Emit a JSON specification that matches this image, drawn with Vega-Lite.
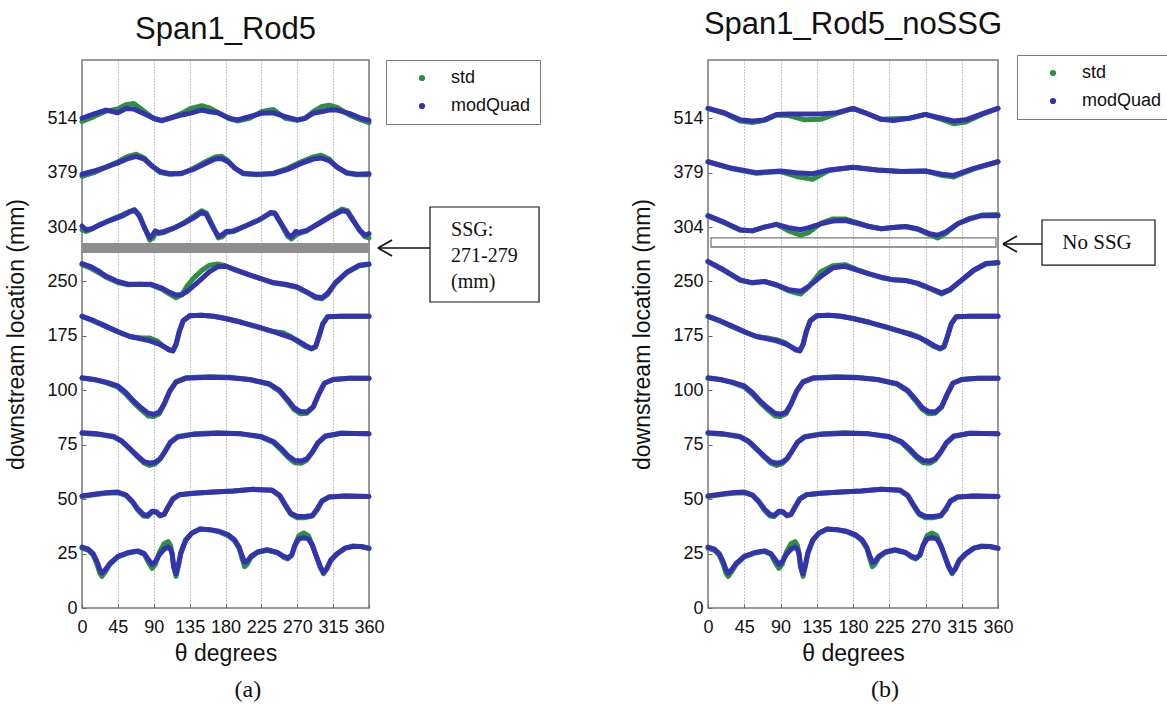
{
"$schema": "https://vega.github.io/schema/vega-lite/v6.json",
"background": "white",
"padding": {"left": 5, "top": 7, "right": 0, "bottom": 0},
"bounds": "flush",
"spacing": 339,
"config": {
  "font": "Liberation Sans",
  "view": {"stroke": "#7a7a7a", "strokeWidth": 1.5},
  "axis": {"labelFont": "Liberation Sans", "labelFontSize": 18, "labelColor": "#111", "labelOverlap": false, "labelFlush": false, "titleFont": "Liberation Sans", "titleFontSize": 23, "titleFontWeight": "normal", "titleColor": "#111", "domain": false, "tickColor": "#666", "tickSize": -4},
  "legend": {"title": null, "orient": "none", "strokeColor": "#7a7a7a", "fillColor": "white", "padding": 9, "symbolType": "circle", "symbolSize": 10, "symbolStrokeWidth": 3, "symbolOffset": 18, "labelOffset": 20, "labelFont": "Liberation Sans", "labelFontSize": 18, "labelColor": "#111", "rowPadding": 10},
  "title": {"font": "Liberation Sans", "fontSize": 31, "fontWeight": "normal", "color": "#111", "offset": 14}
},
"resolve": {"scale": {"color": "independent"}, "legend": {"color": "independent"}},
"datasets": {
"a": [
{"r":1,"t":0,"std":1.10,"modQuad":1.12},{"r":1,"t":8,"std":1.06,"modQuad":1.08},{"r":1,"t":14,"std":0.97,"modQuad":1.0},{"r":1,"t":19,"std":0.8,"modQuad":0.85},{"r":1,"t":22,"std":0.65,"modQuad":0.72},{"r":1,"t":25,"std":0.58,"modQuad":0.64},{"r":1,"t":29,"std":0.66,"modQuad":0.7},{"r":1,"t":35,"std":0.8,"modQuad":0.82},{"r":1,"t":45,"std":0.94,"modQuad":0.95},{"r":1,"t":58,"std":1.01,"modQuad":1.02},{"r":1,"t":70,"std":1.04,"modQuad":1.05},{"r":1,"t":78,"std":0.99,"modQuad":1.0},{"r":1,"t":84,"std":0.82,"modQuad":0.88},{"r":1,"t":88,"std":0.73,"modQuad":0.8},{"r":1,"t":92,"std":0.8,"modQuad":0.85},{"r":1,"t":97,"std":1.02,"modQuad":0.98},{"r":1,"t":103,"std":1.18,"modQuad":1.08},{"r":1,"t":108,"std":1.22,"modQuad":1.12},{"r":1,"t":111,"std":1.15,"modQuad":1.08},{"r":1,"t":113,"std":1.0,"modQuad":1.0},{"r":1,"t":115,"std":0.76,"modQuad":0.76},{"r":1,"t":118,"std":0.58,"modQuad":0.63},{"r":1,"t":121,"std":0.78,"modQuad":0.8},{"r":1,"t":124,"std":1.0,"modQuad":1.02},{"r":1,"t":130,"std":1.24,"modQuad":1.25},{"r":1,"t":138,"std":1.38,"modQuad":1.38},{"r":1,"t":148,"std":1.45,"modQuad":1.45},{"r":1,"t":160,"std":1.44,"modQuad":1.44},{"r":1,"t":172,"std":1.40,"modQuad":1.41},{"r":1,"t":183,"std":1.33,"modQuad":1.35},{"r":1,"t":191,"std":1.24,"modQuad":1.26},{"r":1,"t":197,"std":1.1,"modQuad":1.12},{"r":1,"t":201,"std":0.9,"modQuad":0.95},{"r":1,"t":204,"std":0.76,"modQuad":0.84},{"r":1,"t":207,"std":0.8,"modQuad":0.85},{"r":1,"t":212,"std":0.93,"modQuad":0.95},{"r":1,"t":220,"std":1.02,"modQuad":1.03},{"r":1,"t":232,"std":1.06,"modQuad":1.07},{"r":1,"t":245,"std":1.02,"modQuad":1.02},{"r":1,"t":253,"std":0.93,"modQuad":0.95},{"r":1,"t":258,"std":0.9,"modQuad":0.92},{"r":1,"t":263,"std":0.97,"modQuad":0.97},{"r":1,"t":267,"std":1.15,"modQuad":1.15},{"r":1,"t":272,"std":1.33,"modQuad":1.27},{"r":1,"t":278,"std":1.38,"modQuad":1.29},{"r":1,"t":284,"std":1.33,"modQuad":1.27},{"r":1,"t":289,"std":1.15,"modQuad":1.15},{"r":1,"t":294,"std":0.95,"modQuad":0.95},{"r":1,"t":299,"std":0.74,"modQuad":0.76},{"r":1,"t":303,"std":0.63,"modQuad":0.65},{"r":1,"t":307,"std":0.72,"modQuad":0.72},{"r":1,"t":312,"std":0.87,"modQuad":0.88},{"r":1,"t":320,"std":0.99,"modQuad":1.0},{"r":1,"t":330,"std":1.1,"modQuad":1.1},{"r":1,"t":340,"std":1.14,"modQuad":1.13},{"r":1,"t":350,"std":1.13,"modQuad":1.13},{"r":1,"t":360,"std":1.09,"modQuad":1.1},
{"r":2,"t":0,"std":2.05,"modQuad":2.06},{"r":2,"t":15,"std":2.08,"modQuad":2.09},{"r":2,"t":30,"std":2.11,"modQuad":2.12},{"r":2,"t":45,"std":2.12,"modQuad":2.13},{"r":2,"t":55,"std":2.07,"modQuad":2.08},{"r":2,"t":63,"std":1.95,"modQuad":1.96},{"r":2,"t":70,"std":1.8,"modQuad":1.82},{"r":2,"t":77,"std":1.69,"modQuad":1.72},{"r":2,"t":82,"std":1.68,"modQuad":1.7},{"r":2,"t":88,"std":1.76,"modQuad":1.78},{"r":2,"t":93,"std":1.76,"modQuad":1.77},{"r":2,"t":98,"std":1.69,"modQuad":1.7},{"r":2,"t":103,"std":1.72,"modQuad":1.72},{"r":2,"t":108,"std":1.86,"modQuad":1.85},{"r":2,"t":114,"std":2.01,"modQuad":2.0},{"r":2,"t":122,"std":2.08,"modQuad":2.08},{"r":2,"t":140,"std":2.11,"modQuad":2.11},{"r":2,"t":165,"std":2.13,"modQuad":2.13},{"r":2,"t":190,"std":2.15,"modQuad":2.15},{"r":2,"t":215,"std":2.18,"modQuad":2.18},{"r":2,"t":238,"std":2.16,"modQuad":2.17},{"r":2,"t":248,"std":2.06,"modQuad":2.07},{"r":2,"t":255,"std":1.88,"modQuad":1.9},{"r":2,"t":262,"std":1.72,"modQuad":1.74},{"r":2,"t":270,"std":1.66,"modQuad":1.68},{"r":2,"t":280,"std":1.66,"modQuad":1.68},{"r":2,"t":289,"std":1.69,"modQuad":1.7},{"r":2,"t":295,"std":1.8,"modQuad":1.82},{"r":2,"t":301,"std":1.96,"modQuad":1.97},{"r":2,"t":310,"std":2.04,"modQuad":2.04},{"r":2,"t":330,"std":2.06,"modQuad":2.06},{"r":2,"t":360,"std":2.05,"modQuad":2.05},
{"r":3,"t":0,"std":3.21,"modQuad":3.22},{"r":3,"t":20,"std":3.19,"modQuad":3.2},{"r":3,"t":40,"std":3.14,"modQuad":3.15},{"r":3,"t":50,"std":3.06,"modQuad":3.07},{"r":3,"t":60,"std":2.92,"modQuad":2.93},{"r":3,"t":70,"std":2.77,"modQuad":2.79},{"r":3,"t":78,"std":2.66,"modQuad":2.69},{"r":3,"t":85,"std":2.62,"modQuad":2.66},{"r":3,"t":92,"std":2.65,"modQuad":2.68},{"r":3,"t":98,"std":2.74,"modQuad":2.74},{"r":3,"t":104,"std":2.88,"modQuad":2.87},{"r":3,"t":111,"std":3.05,"modQuad":3.04},{"r":3,"t":120,"std":3.15,"modQuad":3.14},{"r":3,"t":140,"std":3.2,"modQuad":3.19},{"r":3,"t":170,"std":3.22,"modQuad":3.21},{"r":3,"t":200,"std":3.2,"modQuad":3.2},{"r":3,"t":225,"std":3.14,"modQuad":3.15},{"r":3,"t":240,"std":3.04,"modQuad":3.06},{"r":3,"t":250,"std":2.9,"modQuad":2.93},{"r":3,"t":259,"std":2.76,"modQuad":2.79},{"r":3,"t":267,"std":2.67,"modQuad":2.71},{"r":3,"t":275,"std":2.66,"modQuad":2.7},{"r":3,"t":282,"std":2.72,"modQuad":2.74},{"r":3,"t":289,"std":2.86,"modQuad":2.87},{"r":3,"t":296,"std":3.03,"modQuad":3.04},{"r":3,"t":305,"std":3.15,"modQuad":3.16},{"r":3,"t":325,"std":3.21,"modQuad":3.21},{"r":3,"t":360,"std":3.2,"modQuad":3.2},
{"r":4,"t":0,"std":4.22,"modQuad":4.23},{"r":4,"t":15,"std":4.2,"modQuad":4.2},{"r":4,"t":30,"std":4.14,"modQuad":4.15},{"r":4,"t":45,"std":4.06,"modQuad":4.08},{"r":4,"t":55,"std":3.93,"modQuad":3.96},{"r":4,"t":65,"std":3.77,"modQuad":3.8},{"r":4,"t":75,"std":3.63,"modQuad":3.67},{"r":4,"t":83,"std":3.53,"modQuad":3.58},{"r":4,"t":90,"std":3.52,"modQuad":3.56},{"r":4,"t":97,"std":3.57,"modQuad":3.6},{"r":4,"t":103,"std":3.74,"modQuad":3.75},{"r":4,"t":110,"std":3.99,"modQuad":3.98},{"r":4,"t":118,"std":4.16,"modQuad":4.15},{"r":4,"t":130,"std":4.23,"modQuad":4.22},{"r":4,"t":160,"std":4.25,"modQuad":4.24},{"r":4,"t":185,"std":4.24,"modQuad":4.23},{"r":4,"t":210,"std":4.2,"modQuad":4.2},{"r":4,"t":235,"std":4.11,"modQuad":4.12},{"r":4,"t":248,"std":3.98,"modQuad":4.0},{"r":4,"t":258,"std":3.8,"modQuad":3.83},{"r":4,"t":266,"std":3.65,"modQuad":3.68},{"r":4,"t":274,"std":3.57,"modQuad":3.61},{"r":4,"t":282,"std":3.58,"modQuad":3.6},{"r":4,"t":290,"std":3.69,"modQuad":3.7},{"r":4,"t":297,"std":3.93,"modQuad":3.93},{"r":4,"t":304,"std":4.13,"modQuad":4.13},{"r":4,"t":315,"std":4.2,"modQuad":4.2},{"r":4,"t":335,"std":4.22,"modQuad":4.22},{"r":4,"t":360,"std":4.22,"modQuad":4.22},
{"r":5,"t":0,"std":5.36,"modQuad":5.36},{"r":5,"t":15,"std":5.27,"modQuad":5.28},{"r":5,"t":30,"std":5.17,"modQuad":5.18},{"r":5,"t":45,"std":5.07,"modQuad":5.08},{"r":5,"t":60,"std":4.99,"modQuad":4.99},{"r":5,"t":75,"std":4.96,"modQuad":4.94},{"r":5,"t":85,"std":4.96,"modQuad":4.91},{"r":5,"t":95,"std":4.9,"modQuad":4.86},{"r":5,"t":103,"std":4.8,"modQuad":4.8},{"r":5,"t":109,"std":4.74,"modQuad":4.75},{"r":5,"t":114,"std":4.72,"modQuad":4.73},{"r":5,"t":118,"std":4.84,"modQuad":4.85},{"r":5,"t":122,"std":5.08,"modQuad":5.08},{"r":5,"t":127,"std":5.28,"modQuad":5.28},{"r":5,"t":135,"std":5.37,"modQuad":5.37},{"r":5,"t":150,"std":5.38,"modQuad":5.38},{"r":5,"t":165,"std":5.36,"modQuad":5.36},{"r":5,"t":180,"std":5.32,"modQuad":5.32},{"r":5,"t":200,"std":5.25,"modQuad":5.25},{"r":5,"t":220,"std":5.16,"modQuad":5.17},{"r":5,"t":240,"std":5.08,"modQuad":5.08},{"r":5,"t":252,"std":5.06,"modQuad":5.02},{"r":5,"t":262,"std":4.99,"modQuad":4.97},{"r":5,"t":272,"std":4.88,"modQuad":4.9},{"r":5,"t":281,"std":4.8,"modQuad":4.82},{"r":5,"t":288,"std":4.76,"modQuad":4.77},{"r":5,"t":293,"std":4.8,"modQuad":4.8},{"r":5,"t":297,"std":4.98,"modQuad":4.98},{"r":5,"t":302,"std":5.22,"modQuad":5.22},{"r":5,"t":308,"std":5.35,"modQuad":5.35},{"r":5,"t":325,"std":5.36,"modQuad":5.36},{"r":5,"t":360,"std":5.36,"modQuad":5.36},
{"r":6,"t":0,"std":6.31,"modQuad":6.33},{"r":6,"t":10,"std":6.25,"modQuad":6.28},{"r":6,"t":20,"std":6.17,"modQuad":6.2},{"r":6,"t":30,"std":6.08,"modQuad":6.1},{"r":6,"t":45,"std":5.98,"modQuad":6.0},{"r":6,"t":58,"std":5.94,"modQuad":5.95},{"r":6,"t":72,"std":5.95,"modQuad":5.95},{"r":6,"t":86,"std":5.94,"modQuad":5.95},{"r":6,"t":100,"std":5.86,"modQuad":5.88},{"r":6,"t":110,"std":5.77,"modQuad":5.8},{"r":6,"t":118,"std":5.7,"modQuad":5.75},{"r":6,"t":125,"std":5.75,"modQuad":5.76},{"r":6,"t":132,"std":5.92,"modQuad":5.82},{"r":6,"t":140,"std":6.06,"modQuad":5.92},{"r":6,"t":150,"std":6.2,"modQuad":6.05},{"r":6,"t":160,"std":6.3,"modQuad":6.18},{"r":6,"t":170,"std":6.32,"modQuad":6.27},{"r":6,"t":180,"std":6.29,"modQuad":6.28},{"r":6,"t":195,"std":6.2,"modQuad":6.2},{"r":6,"t":210,"std":6.12,"modQuad":6.12},{"r":6,"t":225,"std":6.05,"modQuad":6.05},{"r":6,"t":240,"std":5.97,"modQuad":5.98},{"r":6,"t":255,"std":5.94,"modQuad":5.95},{"r":6,"t":270,"std":5.89,"modQuad":5.9},{"r":6,"t":283,"std":5.79,"modQuad":5.8},{"r":6,"t":293,"std":5.7,"modQuad":5.72},{"r":6,"t":301,"std":5.68,"modQuad":5.7},{"r":6,"t":308,"std":5.76,"modQuad":5.78},{"r":6,"t":318,"std":5.97,"modQuad":5.98},{"r":6,"t":333,"std":6.17,"modQuad":6.18},{"r":6,"t":348,"std":6.29,"modQuad":6.3},{"r":6,"t":360,"std":6.31,"modQuad":6.32},
{"r":7,"t":0,"std":6.95,"modQuad":7.02},{"r":7,"t":5,"std":6.92,"modQuad":6.95},{"r":7,"t":12,"std":6.96,"modQuad":6.97},{"r":7,"t":22,"std":7.04,"modQuad":7.04},{"r":7,"t":35,"std":7.13,"modQuad":7.12},{"r":7,"t":50,"std":7.22,"modQuad":7.2},{"r":7,"t":60,"std":7.29,"modQuad":7.28},{"r":7,"t":66,"std":7.32,"modQuad":7.31},{"r":7,"t":72,"std":7.22,"modQuad":7.2},{"r":7,"t":79,"std":6.97,"modQuad":6.97},{"r":7,"t":85,"std":6.76,"modQuad":6.8},{"r":7,"t":89,"std":6.8,"modQuad":6.86},{"r":7,"t":92,"std":6.88,"modQuad":6.93},{"r":7,"t":96,"std":6.88,"modQuad":6.9},{"r":7,"t":103,"std":6.9,"modQuad":6.92},{"r":7,"t":115,"std":6.98,"modQuad":6.98},{"r":7,"t":128,"std":7.08,"modQuad":7.07},{"r":7,"t":140,"std":7.2,"modQuad":7.17},{"r":7,"t":150,"std":7.3,"modQuad":7.27},{"r":7,"t":156,"std":7.26,"modQuad":7.23},{"r":7,"t":163,"std":7.05,"modQuad":7.03},{"r":7,"t":171,"std":6.8,"modQuad":6.83},{"r":7,"t":176,"std":6.82,"modQuad":6.86},{"r":7,"t":181,"std":6.9,"modQuad":6.92},{"r":7,"t":190,"std":6.92,"modQuad":6.93},{"r":7,"t":205,"std":7.02,"modQuad":7.02},{"r":7,"t":222,"std":7.13,"modQuad":7.13},{"r":7,"t":237,"std":7.26,"modQuad":7.27},{"r":7,"t":242,"std":7.24,"modQuad":7.26},{"r":7,"t":250,"std":7.05,"modQuad":7.06},{"r":7,"t":258,"std":6.83,"modQuad":6.87},{"r":7,"t":263,"std":6.78,"modQuad":6.82},{"r":7,"t":268,"std":6.85,"modQuad":6.92},{"r":7,"t":272,"std":6.88,"modQuad":6.9},{"r":7,"t":282,"std":6.93,"modQuad":6.94},{"r":7,"t":298,"std":7.08,"modQuad":7.07},{"r":7,"t":313,"std":7.22,"modQuad":7.2},{"r":7,"t":326,"std":7.33,"modQuad":7.3},{"r":7,"t":333,"std":7.3,"modQuad":7.28},{"r":7,"t":340,"std":7.14,"modQuad":7.12},{"r":7,"t":348,"std":6.94,"modQuad":6.95},{"r":7,"t":355,"std":6.82,"modQuad":6.85},{"r":7,"t":360,"std":6.8,"modQuad":6.88},
{"r":8,"t":0,"std":7.93,"modQuad":7.97},{"r":8,"t":15,"std":8.0,"modQuad":8.03},{"r":8,"t":30,"std":8.1,"modQuad":8.1},{"r":8,"t":45,"std":8.2,"modQuad":8.18},{"r":8,"t":58,"std":8.3,"modQuad":8.26},{"r":8,"t":68,"std":8.34,"modQuad":8.3},{"r":8,"t":78,"std":8.27,"modQuad":8.25},{"r":8,"t":88,"std":8.12,"modQuad":8.12},{"r":8,"t":98,"std":8.0,"modQuad":8.02},{"r":8,"t":110,"std":7.97,"modQuad":7.98},{"r":8,"t":125,"std":7.98,"modQuad":7.99},{"r":8,"t":140,"std":8.08,"modQuad":8.06},{"r":8,"t":155,"std":8.2,"modQuad":8.17},{"r":8,"t":167,"std":8.29,"modQuad":8.25},{"r":8,"t":175,"std":8.3,"modQuad":8.26},{"r":8,"t":183,"std":8.22,"modQuad":8.2},{"r":8,"t":192,"std":8.08,"modQuad":8.08},{"r":8,"t":202,"std":7.98,"modQuad":7.99},{"r":8,"t":220,"std":7.96,"modQuad":7.97},{"r":8,"t":240,"std":7.99,"modQuad":7.98},{"r":8,"t":258,"std":8.08,"modQuad":8.06},{"r":8,"t":275,"std":8.2,"modQuad":8.17},{"r":8,"t":290,"std":8.29,"modQuad":8.25},{"r":8,"t":300,"std":8.32,"modQuad":8.27},{"r":8,"t":310,"std":8.25,"modQuad":8.22},{"r":8,"t":320,"std":8.1,"modQuad":8.1},{"r":8,"t":332,"std":7.99,"modQuad":8.0},{"r":8,"t":345,"std":7.96,"modQuad":7.97},{"r":8,"t":360,"std":7.96,"modQuad":7.98},
{"r":9,"t":0,"std":8.94,"modQuad":9.0},{"r":9,"t":15,"std":9.03,"modQuad":9.08},{"r":9,"t":30,"std":9.13,"modQuad":9.15},{"r":9,"t":45,"std":9.17,"modQuad":9.1},{"r":9,"t":55,"std":9.25,"modQuad":9.18},{"r":9,"t":65,"std":9.27,"modQuad":9.17},{"r":9,"t":75,"std":9.16,"modQuad":9.1},{"r":9,"t":90,"std":8.99,"modQuad":9.0},{"r":9,"t":100,"std":8.95,"modQuad":8.96},{"r":9,"t":110,"std":9.0,"modQuad":9.0},{"r":9,"t":125,"std":9.09,"modQuad":9.06},{"r":9,"t":135,"std":9.17,"modQuad":9.09},{"r":9,"t":150,"std":9.23,"modQuad":9.15},{"r":9,"t":160,"std":9.19,"modQuad":9.12},{"r":9,"t":170,"std":9.11,"modQuad":9.1},{"r":9,"t":185,"std":8.99,"modQuad":9.0},{"r":9,"t":195,"std":8.95,"modQuad":8.97},{"r":9,"t":210,"std":9.0,"modQuad":9.03},{"r":9,"t":225,"std":9.12,"modQuad":9.09},{"r":9,"t":240,"std":9.16,"modQuad":9.1},{"r":9,"t":255,"std":9.0,"modQuad":9.03},{"r":9,"t":270,"std":8.96,"modQuad":8.97},{"r":9,"t":280,"std":9.0,"modQuad":9.0},{"r":9,"t":290,"std":9.12,"modQuad":9.09},{"r":9,"t":300,"std":9.21,"modQuad":9.12},{"r":9,"t":310,"std":9.24,"modQuad":9.15},{"r":9,"t":320,"std":9.2,"modQuad":9.15},{"r":9,"t":335,"std":9.06,"modQuad":9.09},{"r":9,"t":350,"std":8.97,"modQuad":9.0},{"r":9,"t":360,"std":8.92,"modQuad":8.96}
],
"b": [
{"r":1,"t":0,"std":1.10,"modQuad":1.12},{"r":1,"t":8,"std":1.06,"modQuad":1.08},{"r":1,"t":14,"std":0.97,"modQuad":1.0},{"r":1,"t":19,"std":0.8,"modQuad":0.85},{"r":1,"t":22,"std":0.65,"modQuad":0.72},{"r":1,"t":25,"std":0.58,"modQuad":0.64},{"r":1,"t":29,"std":0.66,"modQuad":0.7},{"r":1,"t":35,"std":0.8,"modQuad":0.82},{"r":1,"t":45,"std":0.94,"modQuad":0.95},{"r":1,"t":58,"std":1.01,"modQuad":1.02},{"r":1,"t":70,"std":1.04,"modQuad":1.05},{"r":1,"t":78,"std":0.99,"modQuad":1.0},{"r":1,"t":84,"std":0.82,"modQuad":0.88},{"r":1,"t":88,"std":0.73,"modQuad":0.8},{"r":1,"t":92,"std":0.8,"modQuad":0.85},{"r":1,"t":97,"std":1.02,"modQuad":0.98},{"r":1,"t":103,"std":1.18,"modQuad":1.08},{"r":1,"t":108,"std":1.22,"modQuad":1.12},{"r":1,"t":111,"std":1.15,"modQuad":1.08},{"r":1,"t":113,"std":1.0,"modQuad":1.0},{"r":1,"t":115,"std":0.76,"modQuad":0.76},{"r":1,"t":118,"std":0.58,"modQuad":0.63},{"r":1,"t":121,"std":0.78,"modQuad":0.8},{"r":1,"t":124,"std":1.0,"modQuad":1.02},{"r":1,"t":130,"std":1.24,"modQuad":1.25},{"r":1,"t":138,"std":1.38,"modQuad":1.38},{"r":1,"t":148,"std":1.45,"modQuad":1.45},{"r":1,"t":160,"std":1.44,"modQuad":1.44},{"r":1,"t":172,"std":1.40,"modQuad":1.41},{"r":1,"t":183,"std":1.33,"modQuad":1.35},{"r":1,"t":191,"std":1.24,"modQuad":1.26},{"r":1,"t":197,"std":1.1,"modQuad":1.12},{"r":1,"t":201,"std":0.9,"modQuad":0.95},{"r":1,"t":204,"std":0.76,"modQuad":0.84},{"r":1,"t":207,"std":0.8,"modQuad":0.85},{"r":1,"t":212,"std":0.93,"modQuad":0.95},{"r":1,"t":220,"std":1.02,"modQuad":1.03},{"r":1,"t":232,"std":1.06,"modQuad":1.07},{"r":1,"t":245,"std":1.02,"modQuad":1.02},{"r":1,"t":253,"std":0.93,"modQuad":0.95},{"r":1,"t":258,"std":0.9,"modQuad":0.92},{"r":1,"t":263,"std":0.97,"modQuad":0.97},{"r":1,"t":267,"std":1.15,"modQuad":1.15},{"r":1,"t":272,"std":1.33,"modQuad":1.27},{"r":1,"t":278,"std":1.38,"modQuad":1.29},{"r":1,"t":284,"std":1.33,"modQuad":1.27},{"r":1,"t":289,"std":1.15,"modQuad":1.15},{"r":1,"t":294,"std":0.95,"modQuad":0.95},{"r":1,"t":299,"std":0.74,"modQuad":0.76},{"r":1,"t":303,"std":0.63,"modQuad":0.65},{"r":1,"t":307,"std":0.72,"modQuad":0.72},{"r":1,"t":312,"std":0.87,"modQuad":0.88},{"r":1,"t":320,"std":0.99,"modQuad":1.0},{"r":1,"t":330,"std":1.1,"modQuad":1.1},{"r":1,"t":340,"std":1.14,"modQuad":1.13},{"r":1,"t":350,"std":1.13,"modQuad":1.13},{"r":1,"t":360,"std":1.09,"modQuad":1.1},
{"r":2,"t":0,"std":2.05,"modQuad":2.06},{"r":2,"t":15,"std":2.08,"modQuad":2.09},{"r":2,"t":30,"std":2.11,"modQuad":2.12},{"r":2,"t":45,"std":2.12,"modQuad":2.13},{"r":2,"t":55,"std":2.07,"modQuad":2.08},{"r":2,"t":63,"std":1.95,"modQuad":1.96},{"r":2,"t":70,"std":1.8,"modQuad":1.82},{"r":2,"t":77,"std":1.69,"modQuad":1.72},{"r":2,"t":82,"std":1.68,"modQuad":1.7},{"r":2,"t":88,"std":1.76,"modQuad":1.78},{"r":2,"t":93,"std":1.76,"modQuad":1.77},{"r":2,"t":98,"std":1.69,"modQuad":1.7},{"r":2,"t":103,"std":1.72,"modQuad":1.72},{"r":2,"t":108,"std":1.86,"modQuad":1.85},{"r":2,"t":114,"std":2.01,"modQuad":2.0},{"r":2,"t":122,"std":2.08,"modQuad":2.08},{"r":2,"t":140,"std":2.11,"modQuad":2.11},{"r":2,"t":165,"std":2.13,"modQuad":2.13},{"r":2,"t":190,"std":2.15,"modQuad":2.15},{"r":2,"t":215,"std":2.18,"modQuad":2.18},{"r":2,"t":238,"std":2.16,"modQuad":2.17},{"r":2,"t":248,"std":2.06,"modQuad":2.07},{"r":2,"t":255,"std":1.88,"modQuad":1.9},{"r":2,"t":262,"std":1.72,"modQuad":1.74},{"r":2,"t":270,"std":1.66,"modQuad":1.68},{"r":2,"t":280,"std":1.66,"modQuad":1.68},{"r":2,"t":289,"std":1.69,"modQuad":1.7},{"r":2,"t":295,"std":1.8,"modQuad":1.82},{"r":2,"t":301,"std":1.96,"modQuad":1.97},{"r":2,"t":310,"std":2.04,"modQuad":2.04},{"r":2,"t":330,"std":2.06,"modQuad":2.06},{"r":2,"t":360,"std":2.05,"modQuad":2.05},
{"r":3,"t":0,"std":3.21,"modQuad":3.22},{"r":3,"t":20,"std":3.19,"modQuad":3.2},{"r":3,"t":40,"std":3.14,"modQuad":3.15},{"r":3,"t":50,"std":3.06,"modQuad":3.07},{"r":3,"t":60,"std":2.92,"modQuad":2.93},{"r":3,"t":70,"std":2.77,"modQuad":2.79},{"r":3,"t":78,"std":2.66,"modQuad":2.69},{"r":3,"t":85,"std":2.62,"modQuad":2.66},{"r":3,"t":92,"std":2.65,"modQuad":2.68},{"r":3,"t":98,"std":2.74,"modQuad":2.74},{"r":3,"t":104,"std":2.88,"modQuad":2.87},{"r":3,"t":111,"std":3.05,"modQuad":3.04},{"r":3,"t":120,"std":3.15,"modQuad":3.14},{"r":3,"t":140,"std":3.2,"modQuad":3.19},{"r":3,"t":170,"std":3.22,"modQuad":3.21},{"r":3,"t":200,"std":3.2,"modQuad":3.2},{"r":3,"t":225,"std":3.14,"modQuad":3.15},{"r":3,"t":240,"std":3.04,"modQuad":3.06},{"r":3,"t":250,"std":2.9,"modQuad":2.93},{"r":3,"t":259,"std":2.76,"modQuad":2.79},{"r":3,"t":267,"std":2.67,"modQuad":2.71},{"r":3,"t":275,"std":2.66,"modQuad":2.7},{"r":3,"t":282,"std":2.72,"modQuad":2.74},{"r":3,"t":289,"std":2.86,"modQuad":2.87},{"r":3,"t":296,"std":3.03,"modQuad":3.04},{"r":3,"t":305,"std":3.15,"modQuad":3.16},{"r":3,"t":325,"std":3.21,"modQuad":3.21},{"r":3,"t":360,"std":3.2,"modQuad":3.2},
{"r":4,"t":0,"std":4.22,"modQuad":4.23},{"r":4,"t":15,"std":4.2,"modQuad":4.2},{"r":4,"t":30,"std":4.14,"modQuad":4.15},{"r":4,"t":45,"std":4.06,"modQuad":4.08},{"r":4,"t":55,"std":3.93,"modQuad":3.96},{"r":4,"t":65,"std":3.77,"modQuad":3.8},{"r":4,"t":75,"std":3.63,"modQuad":3.67},{"r":4,"t":83,"std":3.53,"modQuad":3.58},{"r":4,"t":90,"std":3.52,"modQuad":3.56},{"r":4,"t":97,"std":3.57,"modQuad":3.6},{"r":4,"t":103,"std":3.74,"modQuad":3.75},{"r":4,"t":110,"std":3.99,"modQuad":3.98},{"r":4,"t":118,"std":4.16,"modQuad":4.15},{"r":4,"t":130,"std":4.23,"modQuad":4.22},{"r":4,"t":160,"std":4.25,"modQuad":4.24},{"r":4,"t":185,"std":4.24,"modQuad":4.23},{"r":4,"t":210,"std":4.2,"modQuad":4.2},{"r":4,"t":235,"std":4.11,"modQuad":4.12},{"r":4,"t":248,"std":3.98,"modQuad":4.0},{"r":4,"t":258,"std":3.8,"modQuad":3.83},{"r":4,"t":266,"std":3.65,"modQuad":3.68},{"r":4,"t":274,"std":3.57,"modQuad":3.61},{"r":4,"t":282,"std":3.58,"modQuad":3.6},{"r":4,"t":290,"std":3.69,"modQuad":3.7},{"r":4,"t":297,"std":3.93,"modQuad":3.93},{"r":4,"t":304,"std":4.13,"modQuad":4.13},{"r":4,"t":315,"std":4.2,"modQuad":4.2},{"r":4,"t":335,"std":4.22,"modQuad":4.22},{"r":4,"t":360,"std":4.22,"modQuad":4.22},
{"r":5,"t":0,"std":5.36,"modQuad":5.36},{"r":5,"t":15,"std":5.27,"modQuad":5.28},{"r":5,"t":30,"std":5.17,"modQuad":5.18},{"r":5,"t":45,"std":5.07,"modQuad":5.08},{"r":5,"t":60,"std":4.99,"modQuad":4.99},{"r":5,"t":75,"std":4.96,"modQuad":4.94},{"r":5,"t":85,"std":4.93,"modQuad":4.91},{"r":5,"t":95,"std":4.88,"modQuad":4.86},{"r":5,"t":103,"std":4.8,"modQuad":4.8},{"r":5,"t":109,"std":4.74,"modQuad":4.75},{"r":5,"t":114,"std":4.72,"modQuad":4.73},{"r":5,"t":118,"std":4.84,"modQuad":4.85},{"r":5,"t":122,"std":5.08,"modQuad":5.08},{"r":5,"t":127,"std":5.28,"modQuad":5.28},{"r":5,"t":135,"std":5.37,"modQuad":5.37},{"r":5,"t":150,"std":5.38,"modQuad":5.38},{"r":5,"t":165,"std":5.36,"modQuad":5.36},{"r":5,"t":180,"std":5.32,"modQuad":5.32},{"r":5,"t":200,"std":5.25,"modQuad":5.25},{"r":5,"t":220,"std":5.16,"modQuad":5.17},{"r":5,"t":240,"std":5.08,"modQuad":5.08},{"r":5,"t":252,"std":5.04,"modQuad":5.02},{"r":5,"t":262,"std":4.98,"modQuad":4.97},{"r":5,"t":272,"std":4.88,"modQuad":4.9},{"r":5,"t":281,"std":4.8,"modQuad":4.82},{"r":5,"t":288,"std":4.76,"modQuad":4.77},{"r":5,"t":293,"std":4.8,"modQuad":4.8},{"r":5,"t":297,"std":4.98,"modQuad":4.98},{"r":5,"t":302,"std":5.22,"modQuad":5.22},{"r":5,"t":308,"std":5.35,"modQuad":5.35},{"r":5,"t":325,"std":5.36,"modQuad":5.36},{"r":5,"t":360,"std":5.36,"modQuad":5.36},
{"r":6,"t":0,"std":6.36,"modQuad":6.37},{"r":6,"t":20,"std":6.2,"modQuad":6.21},{"r":6,"t":40,"std":6.02,"modQuad":6.03},{"r":6,"t":55,"std":5.97,"modQuad":5.98},{"r":6,"t":70,"std":6.0,"modQuad":6.0},{"r":6,"t":85,"std":5.93,"modQuad":5.94},{"r":6,"t":100,"std":5.83,"modQuad":5.85},{"r":6,"t":115,"std":5.77,"modQuad":5.82},{"r":6,"t":125,"std":5.9,"modQuad":5.91},{"r":6,"t":140,"std":6.18,"modQuad":6.09},{"r":6,"t":155,"std":6.29,"modQuad":6.25},{"r":6,"t":170,"std":6.31,"modQuad":6.28},{"r":6,"t":185,"std":6.22,"modQuad":6.21},{"r":6,"t":200,"std":6.14,"modQuad":6.14},{"r":6,"t":215,"std":6.07,"modQuad":6.08},{"r":6,"t":230,"std":6.03,"modQuad":6.03},{"r":6,"t":245,"std":6.02,"modQuad":6.02},{"r":6,"t":260,"std":5.96,"modQuad":5.97},{"r":6,"t":275,"std":5.87,"modQuad":5.88},{"r":6,"t":290,"std":5.77,"modQuad":5.79},{"r":6,"t":300,"std":5.84,"modQuad":5.85},{"r":6,"t":315,"std":6.02,"modQuad":6.03},{"r":6,"t":330,"std":6.2,"modQuad":6.21},{"r":6,"t":345,"std":6.32,"modQuad":6.33},{"r":6,"t":360,"std":6.34,"modQuad":6.35},
{"r":7,"t":0,"std":7.2,"modQuad":7.21},{"r":7,"t":20,"std":7.08,"modQuad":7.09},{"r":7,"t":40,"std":6.94,"modQuad":6.95},{"r":7,"t":55,"std":6.93,"modQuad":6.93},{"r":7,"t":70,"std":7.0,"modQuad":7.0},{"r":7,"t":85,"std":7.05,"modQuad":7.05},{"r":7,"t":100,"std":6.93,"modQuad":6.99},{"r":7,"t":115,"std":6.85,"modQuad":6.95},{"r":7,"t":125,"std":6.9,"modQuad":6.99},{"r":7,"t":140,"std":7.07,"modQuad":7.06},{"r":7,"t":155,"std":7.15,"modQuad":7.11},{"r":7,"t":170,"std":7.15,"modQuad":7.12},{"r":7,"t":185,"std":7.08,"modQuad":7.07},{"r":7,"t":200,"std":7.01,"modQuad":7.01},{"r":7,"t":215,"std":6.97,"modQuad":6.97},{"r":7,"t":230,"std":6.99,"modQuad":6.99},{"r":7,"t":245,"std":7.01,"modQuad":7.01},{"r":7,"t":260,"std":6.96,"modQuad":6.97},{"r":7,"t":275,"std":6.86,"modQuad":6.88},{"r":7,"t":285,"std":6.8,"modQuad":6.85},{"r":7,"t":295,"std":6.88,"modQuad":6.91},{"r":7,"t":310,"std":7.06,"modQuad":7.06},{"r":7,"t":325,"std":7.16,"modQuad":7.15},{"r":7,"t":340,"std":7.22,"modQuad":7.21},{"r":7,"t":360,"std":7.23,"modQuad":7.21},
{"r":8,"t":0,"std":8.2,"modQuad":8.2},{"r":8,"t":30,"std":8.07,"modQuad":8.08},{"r":8,"t":60,"std":7.99,"modQuad":8.0},{"r":8,"t":90,"std":8.02,"modQuad":8.03},{"r":8,"t":110,"std":7.93,"modQuad":8.0},{"r":8,"t":130,"std":7.88,"modQuad":7.98},{"r":8,"t":150,"std":8.04,"modQuad":8.05},{"r":8,"t":180,"std":8.1,"modQuad":8.1},{"r":8,"t":210,"std":8.05,"modQuad":8.05},{"r":8,"t":240,"std":8.02,"modQuad":8.02},{"r":8,"t":270,"std":8.03,"modQuad":8.03},{"r":8,"t":290,"std":7.95,"modQuad":7.97},{"r":8,"t":305,"std":7.92,"modQuad":7.95},{"r":8,"t":330,"std":8.07,"modQuad":8.08},{"r":8,"t":360,"std":8.2,"modQuad":8.2},
{"r":9,"t":0,"std":9.18,"modQuad":9.18},{"r":9,"t":20,"std":9.09,"modQuad":9.1},{"r":9,"t":40,"std":8.95,"modQuad":8.97},{"r":9,"t":55,"std":8.92,"modQuad":8.95},{"r":9,"t":70,"std":8.96,"modQuad":8.97},{"r":9,"t":85,"std":9.06,"modQuad":9.07},{"r":9,"t":100,"std":9.05,"modQuad":9.08},{"r":9,"t":120,"std":8.97,"modQuad":9.08},{"r":9,"t":140,"std":8.98,"modQuad":9.08},{"r":9,"t":160,"std":9.09,"modQuad":9.1},{"r":9,"t":180,"std":9.18,"modQuad":9.18},{"r":9,"t":195,"std":9.1,"modQuad":9.1},{"r":9,"t":215,"std":8.98,"modQuad":8.98},{"r":9,"t":230,"std":8.99,"modQuad":8.96},{"r":9,"t":250,"std":9.0,"modQuad":9.0},{"r":9,"t":270,"std":9.07,"modQuad":9.07},{"r":9,"t":290,"std":8.98,"modQuad":9.0},{"r":9,"t":305,"std":8.9,"modQuad":8.95},{"r":9,"t":320,"std":8.93,"modQuad":8.97},{"r":9,"t":340,"std":9.07,"modQuad":9.08},{"r":9,"t":360,"std":9.18,"modQuad":9.18}
]
},
"hconcat": [
{
  "width": 287, "height": 548,
  "title": "Span1_Rod5",
  "layer": [
    {"data": {"values": [{"t0": 0, "t1": 360, "y0": 6.523, "y1": 6.707}]},
     "mark": {"type": "rect", "fill": "#8e8e8e"},
     "encoding": {
       "x": {"field": "t0", "type": "quantitative", "scale": {"domain": [0, 360], "nice": false}, "axis": {"values": [0,45,90,135,180,225,270,315,360], "tickCount": 20, "grid": true, "gridDash": [1,2], "gridColor": "#8a8a8a", "labelPadding": 14, "title": "θ degrees", "titlePadding": 6}},
       "x2": {"field": "t1"},
       "y": {"field": "y0", "type": "quantitative", "scale": {"domain": [0, 10.07], "nice": false, "zero": false}, "axis": {"values": [0,1,2,3,4,5,6,7,8,9], "tickCount": 20, "grid": false, "labelExpr": "['0','25','50','75','100','175','250','304','379','514'][datum.value]", "labelPadding": 9, "title": "downstream location (mm)", "titlePadding": 18}},
       "y2": {"field": "y1"}
     }},
    {"data": {"name": "a"},
     "mark": {"type": "line", "strokeWidth": 5, "strokeCap": "round", "strokeJoin": "round"},
     "encoding": {
       "x": {"field": "t", "type": "quantitative"},
       "y": {"field": "std", "type": "quantitative"},
       "detail": {"field": "r", "type": "nominal"},
       "color": {"datum": "std", "type": "nominal", "scale": {"domain": ["std", "modQuad"], "range": ["#2f8f3f", "#3333b0"]}, "legend": {"legendX": 304, "legendY": 0}}
     }},
    {"data": {"name": "a"},
     "mark": {"type": "line", "strokeWidth": 5, "strokeCap": "round", "strokeJoin": "round"},
     "encoding": {
       "x": {"field": "t", "type": "quantitative"},
       "y": {"field": "modQuad", "type": "quantitative"},
       "detail": {"field": "r", "type": "nominal"},
       "color": {"datum": "modQuad", "type": "nominal"}
     }},
    {"data": {"values": [{"t": 371.3, "t2": 436.5, "y": 6.615, "y2": 6.615}, {"t": 371.3, "t2": 388.9, "y": 6.615, "y2": 6.762}, {"t": 371.3, "t2": 388.9, "y": 6.615, "y2": 6.468}]},
     "mark": {"type": "rule", "color": "#111", "strokeWidth": 1.6},
     "encoding": {"x": {"field": "t", "type": "quantitative"}, "x2": {"field": "t2"}, "y": {"field": "y", "type": "quantitative"}, "y2": {"field": "y2"}}},
    {"data": {"values": [{"t": 436.5, "t2": 573.3, "y": 5.623, "y2": 7.369}]},
     "mark": {"type": "rect", "fill": "white", "stroke": "#111", "strokeWidth": 1.2},
     "encoding": {"x": {"field": "t", "type": "quantitative"}, "x2": {"field": "t2"}, "y": {"field": "y", "type": "quantitative"}, "y2": {"field": "y2"}}},
    {"data": {"values": [{"t": 462.9, "y": 6.946, "label": "SSG:"}, {"t": 462.9, "y": 6.468, "label": "271-279"}, {"t": 462.9, "y": 5.99, "label": "(mm)"}]},
     "mark": {"type": "text", "font": "Liberation Serif", "fontSize": 20, "align": "left", "baseline": "middle", "color": "#111"},
     "encoding": {"x": {"field": "t", "type": "quantitative"}, "y": {"field": "y", "type": "quantitative"}, "text": {"field": "label"}}},
    {"data": {"values": [{"t": 208, "y": -1.51, "label": "(a)"}]},
     "mark": {"type": "text", "font": "Liberation Serif", "fontSize": 24, "align": "center", "baseline": "middle", "color": "#111"},
     "encoding": {"x": {"field": "t", "type": "quantitative"}, "y": {"field": "y", "type": "quantitative"}, "text": {"field": "label"}}}
  ]
},
{
  "width": 290, "height": 548,
  "title": "Span1_Rod5_noSSG",
  "layer": [
    {"data": {"values": [{"t0": 3.7, "t1": 357.5, "y0": 6.634, "y1": 6.80}]},
     "mark": {"type": "rect", "fill": "white", "fillOpacity": 0, "stroke": "#7a7a7a", "strokeWidth": 1.3},
     "encoding": {
       "x": {"field": "t0", "type": "quantitative", "scale": {"domain": [0, 360], "nice": false}, "axis": {"values": [0,45,90,135,180,225,270,315,360], "tickCount": 20, "grid": true, "gridDash": [1,2], "gridColor": "#8a8a8a", "labelPadding": 14, "title": "θ degrees", "titlePadding": 6}},
       "x2": {"field": "t1"},
       "y": {"field": "y0", "type": "quantitative", "scale": {"domain": [0, 10.07], "nice": false, "zero": false}, "axis": {"values": [0,1,2,3,4,5,6,7,8,9], "tickCount": 20, "grid": false, "labelExpr": "['0','25','50','75','100','175','250','304','379','514'][datum.value]", "labelPadding": 9, "title": "downstream location (mm)", "titlePadding": 18}},
       "y2": {"field": "y1"}
     }},
    {"data": {"name": "b"},
     "mark": {"type": "line", "strokeWidth": 5, "strokeCap": "round", "strokeJoin": "round"},
     "encoding": {
       "x": {"field": "t", "type": "quantitative"},
       "y": {"field": "std", "type": "quantitative"},
       "detail": {"field": "r", "type": "nominal"},
       "color": {"datum": "std", "type": "nominal", "scale": {"domain": ["std", "modQuad"], "range": ["#2f8f3f", "#3333b0"]}, "legend": {"legendX": 309, "legendY": -5}}
     }},
    {"data": {"name": "b"},
     "mark": {"type": "line", "strokeWidth": 5, "strokeCap": "round", "strokeJoin": "round"},
     "encoding": {
       "x": {"field": "t", "type": "quantitative"},
       "y": {"field": "modQuad", "type": "quantitative"},
       "detail": {"field": "r", "type": "nominal"},
       "color": {"datum": "modQuad", "type": "nominal"}
     }},
    {"data": {"values": [{"t": 366.2, "t2": 414.6, "y": 6.689, "y2": 6.689}, {"t": 366.2, "t2": 383.6, "y": 6.689, "y2": 6.836}, {"t": 366.2, "t2": 383.6, "y": 6.689, "y2": 6.542}]},
     "mark": {"type": "rule", "color": "#111", "strokeWidth": 1.6},
     "encoding": {"x": {"field": "t", "type": "quantitative"}, "x2": {"field": "t2"}, "y": {"field": "y", "type": "quantitative"}, "y2": {"field": "y2"}}},
    {"data": {"values": [{"t": 414.6, "t2": 554.9, "y": 6.30, "y2": 7.13}]},
     "mark": {"type": "rect", "fill": "white", "stroke": "#111", "strokeWidth": 1.2},
     "encoding": {"x": {"field": "t", "type": "quantitative"}, "x2": {"field": "t2"}, "y": {"field": "y", "type": "quantitative"}, "y2": {"field": "y2"}}},
    {"data": {"values": [{"t": 482.9, "y": 6.707, "label": "No SSG"}]},
     "mark": {"type": "text", "font": "Liberation Serif", "fontSize": 21, "align": "center", "baseline": "middle", "color": "#111"},
     "encoding": {"x": {"field": "t", "type": "quantitative"}, "y": {"field": "y", "type": "quantitative"}, "text": {"field": "label"}}},
    {"data": {"values": [{"t": 219.7, "y": -1.51, "label": "(b)"}]},
     "mark": {"type": "text", "font": "Liberation Serif", "fontSize": 24, "align": "center", "baseline": "middle", "color": "#111"},
     "encoding": {"x": {"field": "t", "type": "quantitative"}, "y": {"field": "y", "type": "quantitative"}, "text": {"field": "label"}}}
  ]
}
]
}
